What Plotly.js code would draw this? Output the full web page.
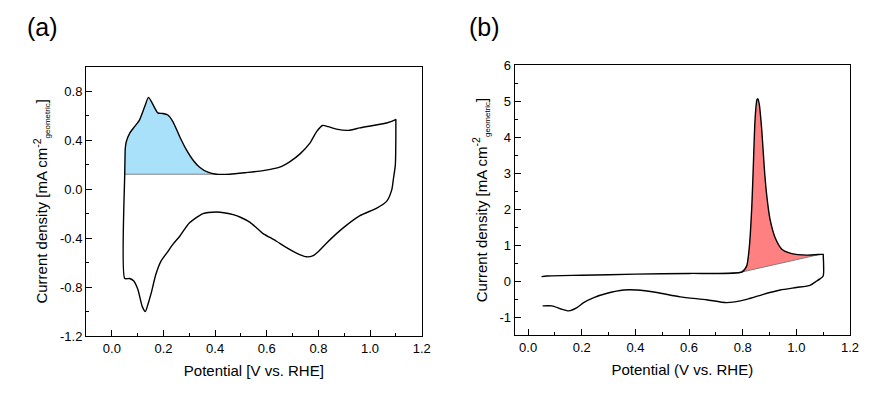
<!DOCTYPE html>
<html>
<head>
<meta charset="utf-8">
<script src="https://cdn.plot.ly/plotly-3.0.1.min.js"></script>
<style>html,body{margin:0;padding:0;background:#fff;}#chart{width:874px;height:398px;}</style>
</head>
<body>
<div id="chart"></div>
<script>
// ---- Panel (a): CV, anodic sweep (potential V vs RHE, current density mA cm-2)
const aAnodicV = [0.05, 0.05, 0.051, 0.052, 0.056, 0.069, 0.088, 0.107, 0.127, 0.142, 0.157, 0.178, 0.198, 0.217, 0.237, 0.263, 0.289, 0.314, 0.34, 0.372, 0.405, 0.457, 0.521, 0.586, 0.65, 0.69, 0.73, 0.767, 0.793, 0.816, 0.838, 0.87, 0.916, 0.96, 1.013, 1.064, 1.097, 1.1];
const aAnodicJ = [-0.73, 0.122, 0.25, 0.33, 0.387, 0.456, 0.51, 0.564, 0.672, 0.749, 0.70, 0.623, 0.618, 0.605, 0.55, 0.428, 0.32, 0.238, 0.179, 0.138, 0.122, 0.122, 0.135, 0.151, 0.179, 0.225, 0.29, 0.375, 0.47, 0.52, 0.51, 0.49, 0.48, 0.50, 0.52, 0.54, 0.565, 0.57];
// ---- Panel (a): cathodic sweep
const aCathodicV = [1.1, 1.098, 1.09, 1.084, 1.064, 1.026, 0.961, 0.896, 0.832, 0.80, 0.78, 0.754, 0.73, 0.702, 0.67, 0.638, 0.612, 0.586, 0.56, 0.534, 0.50, 0.47, 0.44, 0.405, 0.353, 0.30, 0.263, 0.237, 0.217, 0.19, 0.17, 0.153, 0.14, 0.13, 0.118, 0.101, 0.085, 0.069, 0.05];
const aCathodicJ = [0.57, 0.2, 0.076, -0.006, -0.10, -0.155, -0.217, -0.317, -0.44, -0.51, -0.543, -0.553, -0.537, -0.508, -0.47, -0.426, -0.395, -0.364, -0.315, -0.27, -0.232, -0.209, -0.195, -0.187, -0.20, -0.277, -0.385, -0.45, -0.51, -0.59, -0.70, -0.846, -0.94, -1.0, -0.96, -0.82, -0.75, -0.73, -0.73];
// ---- Panel (a): integration baseline
const aBaseV = [0.05, 0.405];
const aBaseJ = [0.122, 0.122];

// ---- Panel (b): anodic sweep
const bAnodicV = [0.05, 0.07, 0.2, 0.4, 0.6, 0.797, 0.815, 0.825, 0.834, 0.84, 0.846, 0.853, 0.857, 0.862, 0.871, 0.881, 0.89, 0.902, 0.921, 0.946, 0.983, 1.039, 1.095, 1.1];
const bAnodicJ = [0.12, 0.14, 0.16, 0.19, 0.21, 0.25, 0.42, 0.97, 2.08, 3.28, 4.48, 5.03, 5.06, 4.9, 4.2, 3.09, 2.35, 1.71, 1.2, 0.88, 0.76, 0.72, 0.74, 0.74];
// ---- Panel (b): cathodic sweep
const bCathodicV = [1.1, 1.1, 1.088, 1.076, 1.051, 1.0, 0.94, 0.877, 0.815, 0.74, 0.666, 0.567, 0.48, 0.406, 0.356, 0.295, 0.245, 0.207, 0.182, 0.151, 0.12, 0.089, 0.054];
const bCathodicJ = [0.74, 0.14, 0.06, 0, -0.12, -0.18, -0.25, -0.37, -0.51, -0.6, -0.52, -0.44, -0.32, -0.25, -0.25, -0.34, -0.46, -0.6, -0.74, -0.83, -0.77, -0.69, -0.69];
// ---- Panel (b): integration baseline
const bBaseV = [0.797, 1.082];
const bBaseJ = [0.25, 0.73];

// ---- tick labels
const aXTickVals = [0, 0.2, 0.4, 0.6, 0.8, 1.0, 1.2];
const aXTickText = ['0.0', '0.2', '0.4', '0.6', '0.8', '1.0', '1.2'];
const aYTickVals = [-1.2, -0.8, -0.4, 0, 0.4, 0.8];
const aYTickText = ['-1.2', '-0.8', '-0.4', '0.0', '0.4', '0.8'];
const bXTickVals = [0, 0.2, 0.4, 0.6, 0.8, 1.0, 1.2];
const bXTickText = ['0.0', '0.2', '0.4', '0.6', '0.8', '1.0', '1.2'];
const bYTickVals = [-1, 0, 1, 2, 3, 4, 5, 6];
const bYTickText = ['-1', '0', '1', '2', '3', '4', '5', '6'];

function fillPolygon(v, j, baseV, baseJ) {
  const slope = (baseJ[1] - baseJ[0]) / (baseV[1] - baseV[0]);
  const base = x => baseJ[0] + slope * (x - baseV[0]);
  const xs = [], ys = [];
  for (let i = 0; i < v.length; i++) {
    if (v[i] >= baseV[0] - 1e-9 && v[i] <= baseV[1] + 1e-9 && j[i] >= base(v[i]) - 1e-9) {
      xs.push(v[i]); ys.push(j[i]);
    }
  }
  xs.push(baseV[1], baseV[0]);
  ys.push(baseJ[1], baseJ[0]);
  return {x: xs, y: ys};
}

const aFill = fillPolygon(aAnodicV, aAnodicJ, aBaseV, aBaseJ);
const bFill = fillPolygon(bAnodicV, bAnodicJ, bBaseV, bBaseJ);

const traces = [
  {x: aFill.x, y: aFill.y, xaxis: 'x', yaxis: 'y', type: 'scatter', mode: 'none', fill: 'toself', fillcolor: '#A9E1FB', hoverinfo: 'skip', showlegend: false},
  {x: aBaseV, y: aBaseJ, xaxis: 'x', yaxis: 'y', type: 'scatter', mode: 'lines', line: {color: '#808080', width: 1}, showlegend: false},
  {x: aAnodicV.concat(aCathodicV), y: aAnodicJ.concat(aCathodicJ), xaxis: 'x', yaxis: 'y', type: 'scatter', mode: 'lines', line: {color: '#000', width: 1.4, shape: 'spline', smoothing: 0.6}, showlegend: false},
  {x: bFill.x, y: bFill.y, xaxis: 'x2', yaxis: 'y2', type: 'scatter', mode: 'none', fill: 'toself', fillcolor: '#FF8080', hoverinfo: 'skip', showlegend: false},
  {x: bBaseV, y: bBaseJ, xaxis: 'x2', yaxis: 'y2', type: 'scatter', mode: 'lines', line: {color: '#808080', width: 1}, showlegend: false},
  {x: bAnodicV.concat(bCathodicV), y: bAnodicJ.concat(bCathodicJ), xaxis: 'x2', yaxis: 'y2', type: 'scatter', mode: 'lines', line: {color: '#000', width: 1.4, shape: 'spline', smoothing: 0.6}, showlegend: false}
];

const font = 'Arial, "Liberation Sans", sans-serif';
const yTitle = 'Current density [mA cm<sup>-2</sup><sub><span style="font-size:8px">geometric</span></sub>]';
function axis(extra) {
  return Object.assign({
    showline: true, mirror: true, linecolor: '#000', linewidth: 1,
    ticks: 'inside', ticklen: 6, tickwidth: 1, tickcolor: '#000',
    showgrid: false, zeroline: false, automargin: false, tickmode: 'array',
    tickfont: {family: font, size: 13, color: '#000'}
  }, extra);
}

const layout = {
  width: 874, height: 398,
  margin: {l: 0, r: 0, t: 0, b: 0},
  paper_bgcolor: '#fff', plot_bgcolor: '#fff',
  font: {family: font, color: '#000'},
  showlegend: false,
  xaxis: axis({domain: [86 / 874, 421.7 / 874], anchor: 'y', range: [-0.1, 1.2],
    tickvals: aXTickVals, ticktext: aXTickText,
    minor: {ticks: 'inside', ticklen: 3, tickcolor: '#000', tickmode: 'linear', tick0: 0, dtick: 0.1},
    title: {text: 'Potential [V vs. RHE]', font: {family: font, size: 15, color: '#000'}, standoff: 10}}),
  yaxis: axis({domain: [1 - 336 / 398, 1 - 66.7 / 398], anchor: 'x', range: [-1.2, 1.0],
    tickvals: aYTickVals, ticktext: aYTickText,
    minor: {ticks: 'inside', ticklen: 3, tickcolor: '#000', tickmode: 'linear', tick0: 0, dtick: 0.2},
    title: {text: yTitle, font: {family: font, size: 15, color: '#000'}, standoff: 8}}),
  xaxis2: axis({domain: [514.7 / 874, 850 / 874], anchor: 'y2', range: [-0.05, 1.2],
    tickvals: bXTickVals, ticktext: bXTickText,
    minor: {ticks: 'inside', ticklen: 3, tickcolor: '#000', tickmode: 'linear', tick0: 0, dtick: 0.1},
    title: {text: 'Potential (V vs. RHE)', font: {family: font, size: 15, color: '#000'}, standoff: 10}}),
  yaxis2: axis({domain: [1 - 335 / 398, 1 - 65 / 398], anchor: 'x2', range: [-1.5, 6],
    tickvals: bYTickVals, ticktext: bYTickText,
    minor: {ticks: 'inside', ticklen: 3, tickcolor: '#000', tickmode: 'linear', tick0: 0, dtick: 0.5},
    title: {text: yTitle, font: {family: font, size: 15, color: '#000'}, standoff: 8}}),
  annotations: [
    {text: '(a)', xref: 'paper', yref: 'paper', x: 42 / 874, y: 1 - 27 / 398, xanchor: 'center', yanchor: 'middle', showarrow: false, font: {family: font, size: 25, color: '#000'}},
    {text: '(b)', xref: 'paper', yref: 'paper', x: 484 / 874, y: 1 - 27 / 398, xanchor: 'center', yanchor: 'middle', showarrow: false, font: {family: font, size: 25, color: '#000'}}
  ]
};

Plotly.newPlot('chart', traces, layout, {staticPlot: true, displayModeBar: false});
</script>
</body>
</html>
